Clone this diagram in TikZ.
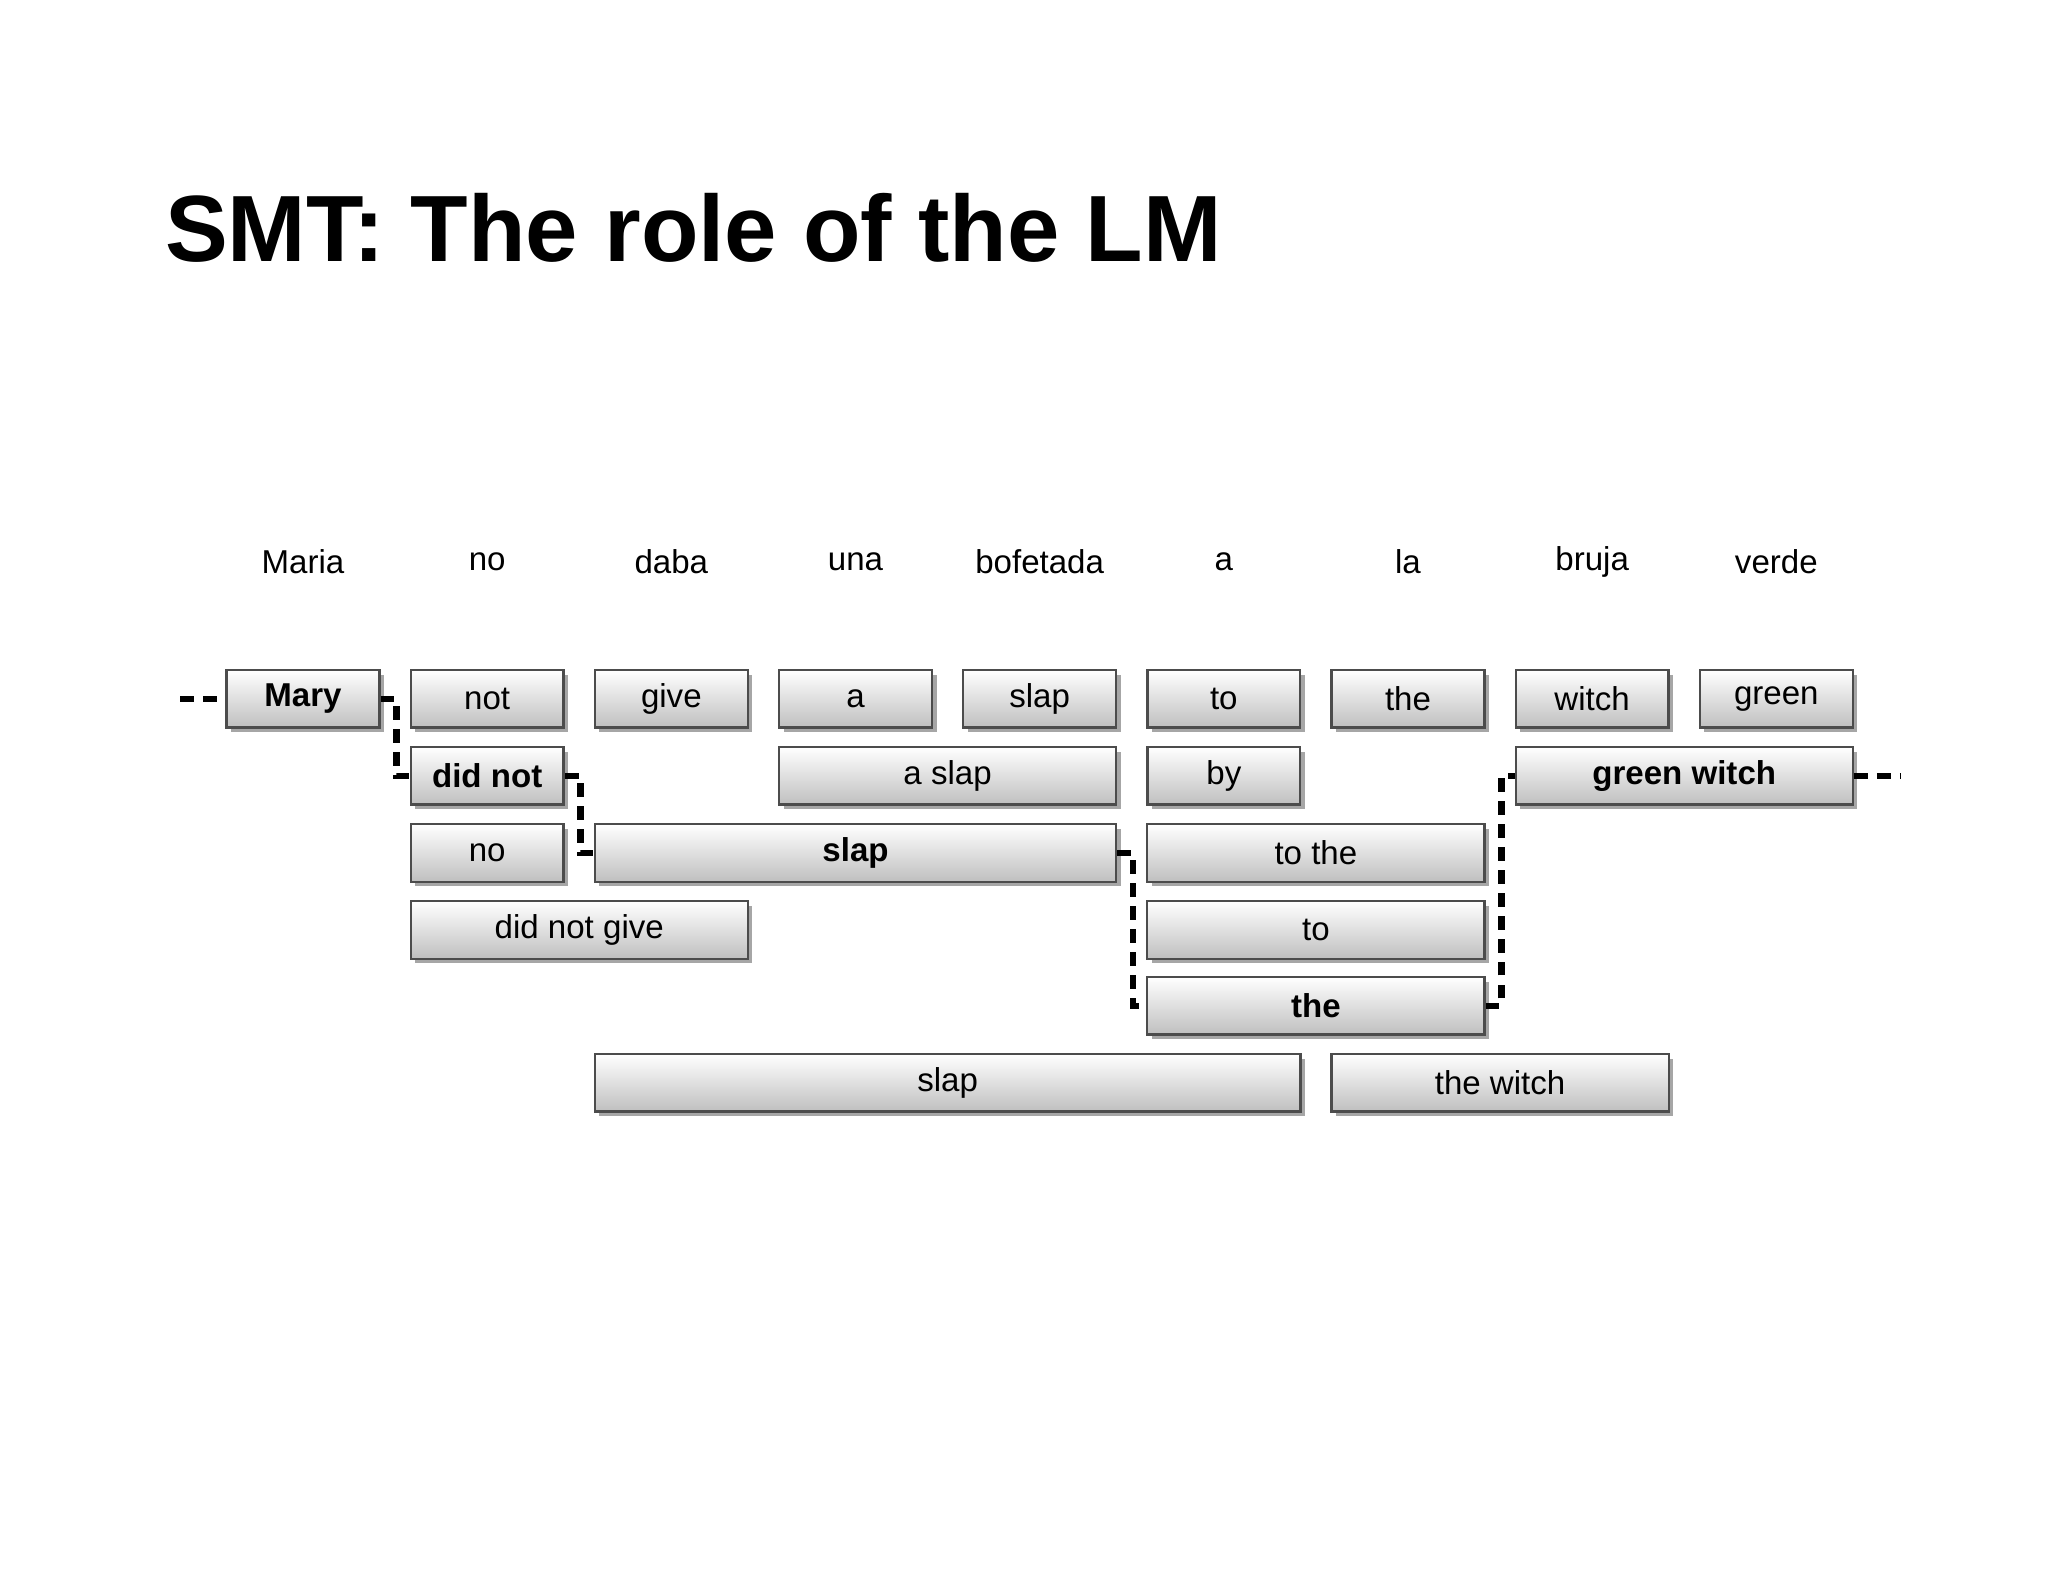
\documentclass[tikz,border=0pt]{standalone}
\usepackage{fontspec}
\setmainfont{Liberation Sans}
\usetikzlibrary{shadows}
\begin{document}
\begin{tikzpicture}[x=0.01cm,y=-0.01cm,
    box/.style={draw=black!70, line width=0.5pt, top color=white, bottom color=black!25,
      minimum height=0.44cm, inner sep=0pt, font=\fontsize{7.2}{8}\selectfont,
      drop shadow={shadow xshift=1pt, shadow yshift=-1pt, opacity=0.35, fill=black}},
    w/.style={minimum width=#1*1.41cm-0.24cm},
    src/.style={font=\fontsize{7.2}{8}\selectfont},
    lm/.style={line width=1.4pt, dash pattern=on 3pt off 2pt}]
  \useasboundingbox (0,0) rectangle (1568,1211);
  \node[anchor=base west, font=\fontsize{20.5}{24}\bfseries\selectfont] (title) at (114,200) {SMT: The role of the LM};

  % source words
  \foreach \word [count=\i] in {Maria,no,daba,una,bofetada,a,la,bruja,verde}
    \node[src] (src\i) at ({232+141*(\i-1)},430) {\word};

  % row 1
  \node[box, w=1] (mary) at (232,535) {\textbf{Mary}};
  \node[box, w=1] (not) at (373,535) {not};
  \node[box, w=1] (give) at (514,535) {give};
  \node[box, w=1] (a) at (655,535) {a};
  \node[box, w=1] (slapA) at (796,535) {slap};
  \node[box, w=1] (toA) at (937,535) {to};
  \node[box, w=1] (theA) at (1078,535) {the};
  \node[box, w=1] (witch) at (1219,535) {witch};
  \node[box, w=1] (green) at (1360,535) {green};

  % row 2
  \node[box, w=1] (didnot) at (373,594) {\textbf{did not}};
  \node[box, w=2] (aslap) at (725.5,594) {a slap};
  \node[box, w=1] (by) at (937,594) {by};
  \node[box, w=2] (greenwitch) at (1289.5,594) {\textbf{green witch}};

  % row 3
  \node[box, w=1] (no) at (373,653) {no};
  \node[box, w=3] (slapB) at (655,653) {\textbf{slap}};
  \node[box, w=2] (tothe) at (1007.5,653) {to the};

  % row 4
  \node[box, w=2] (didnotgive) at (443.5,712) {did not give};
  \node[box, w=2] (toB) at (1007.5,712) {to};

  % row 5
  \node[box, w=2] (theB) at (1007.5,770) {\textbf{the}};

  % row 6
  \node[box, w=4] (slapC) at (725.5,829) {slap};
  \node[box, w=2] (thewitch) at (1148.5,829) {the witch};

  % best path
  \coordinate (start) at (138,535);
  \coordinate (stop) at (1455,594);
  \draw[lm] (start) -- (mary.west);
  \draw[lm] (mary.east) -- ++(12,0) |- (didnot.west);
  \draw[lm] (didnot.east) -- ++(12,0) |- (slapB.west);
  \draw[lm] (slapB.east) -- ++(12,0) |- (theB.west);
  \draw[lm] (theB.east) -- ++(12,0) |- (greenwitch.west);
  \draw[lm] (greenwitch.east) -- (stop);
\end{tikzpicture}
\end{document}
